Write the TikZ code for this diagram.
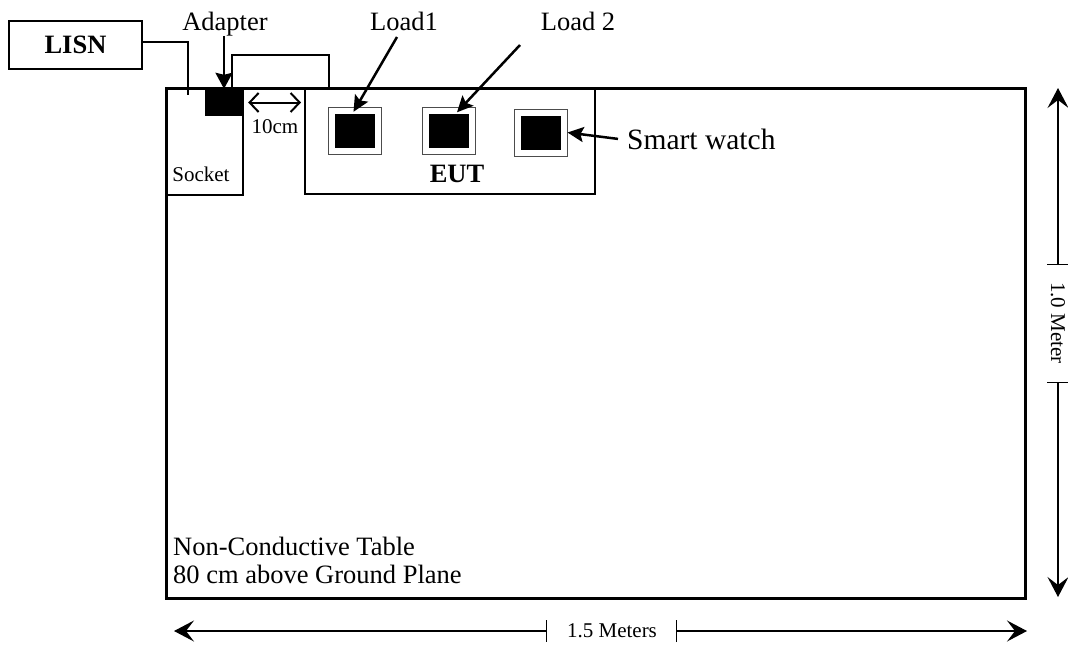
\documentclass[tikz,border=0pt]{standalone}
\usepackage{fontspec}
\setmainfont{Liberation Serif}
\usetikzlibrary{positioning,arrows.meta}

\begin{document}
\begin{tikzpicture}[x=1pt,y=-1pt,
  box/.style={draw,line width=2pt,inner sep=0pt},
  frame/.style={draw=black!70,line width=1pt,minimum width=53pt,minimum height=47pt,inner sep=0pt},
  chip/.style={fill=black,minimum width=40pt,minimum height=34pt,inner sep=0pt},
  lbl/.style={inner sep=0pt,font=\fontsize{26.5}{31}\selectfont},
  small/.style={inner sep=0pt,font=\fontsize{21}{25}\selectfont},
  pointer/.style={line width=2.5pt,-{Stealth[length=16pt,width=15pt,inset=3pt]}},
  dim/.style={line width=1.2pt,{Bar[width=22pt]}-{Stealth[length=20pt,width=21pt,inset=8pt]}}]
\useasboundingbox (0,0) rectangle (1068,646);

% table and boxes on it
\node (tbl) [draw,line width=3pt,minimum width=859pt,minimum height=510pt] at (595.5,343) {};
\node (lisn) [box,minimum width=133pt,minimum height=48pt,font=\fontsize{26.5}{31}\selectfont\bfseries] at (75.5,45) {LISN};
\node (sock) [box,minimum width=76pt,minimum height=107pt] at (205,141.5) {};
\node (cradle) [box,minimum width=97pt,minimum height=33pt] at (280.5,71.5) {};
\node (eut) [box,minimum width=290pt,minimum height=106pt] at (450,141) {};
\node (adp) [chip,minimum width=38pt,minimum height=27pt] at (224,102.5) {};

% loads and watch
\node (load1) [frame] at (354.5,131) {};
\node (c1) [chip] at (load1) {};
\node (load2) [frame] at (449,130.5) {};
\node (c2) [chip] at (load2) {};
\node (watch) [frame] at (540.5,132.5) {};
\node (c3) [chip] at (watch) {};

% texts
\node (adptxt) [lbl,anchor=base] at (225,30) {Adapter};
\node (l1txt) [lbl,anchor=base] at (404,30) {Load1};
\node (l2txt) [lbl,anchor=base] at (578,30) {Load 2};
\node (swtxt) [inner sep=0pt,anchor=base west,font=\fontsize{29.5}{34}\selectfont] at (627,149) {Smart watch};
\node (socktxt) [small,anchor=base] at (201,181) {Socket};
\node (cmtxt) [small,anchor=base] at (275,133) {10cm};
\node (euttxt) [lbl,font=\fontsize{26.5}{31}\selectfont\bfseries,anchor=base] at (457,182) {EUT};
\node (tbl1) [lbl,anchor=base west] at (173,555) {Non-Conductive Table};
\node (tbl2) [lbl,anchor=base west] at (173,583) {80 cm above Ground Plane};

% cable and pointers
\coordinate (plug) at (188,95);
\draw[line width=2pt] ([yshift=3pt]lisn.east) -| (plug);
\draw[line width=2pt,-{Stealth[length=16pt,width=17pt,inset=2pt]}] (adptxt.south -| adp.north) -- (adp.north);
\coordinate (l1tail) at (397,37);
\coordinate (l2tail) at (520,45);
\draw[pointer] (l1tail) -- ([xshift=-1pt,yshift=2pt]c1.north);
\draw[pointer] (l2tail) -- ([xshift=8pt,yshift=1pt]c2.north);
\draw[pointer] ([xshift=-9pt]swtxt.west) -- (watch.east);
\draw[line width=2pt,{Straight Barb[length=9pt,width=19pt]}-{Straight Barb[length=9pt,width=19pt]}]
  ([xshift=5pt]adp.east) -- ([xshift=-3pt]eut.west |- adp.east);

% dimensions
\coordinate (hl) at (174,631);
\coordinate (hr) at (1027,631);
\node (hdim) [inner sep=0pt,font=\fontsize{21}{24}\selectfont] at (612,631) {1.5 Meters};
\draw[dim] ([xshift=-20pt]hdim.west) -- (hl);
\draw[dim] ([xshift=19pt]hdim.east) -- (hr);
\coordinate (vt) at (1058,88);
\coordinate (vb) at (1058,597);
\node (vdim) [inner sep=0pt,rotate=-90,font=\fontsize{21}{24}\selectfont] at (1058,323) {1.0 Meter};
\draw[dim] ([yshift=17pt]vdim.west) -- (vt);
\draw[dim] ([yshift=-18pt]vdim.east) -- (vb);
\end{tikzpicture}
\end{document}
